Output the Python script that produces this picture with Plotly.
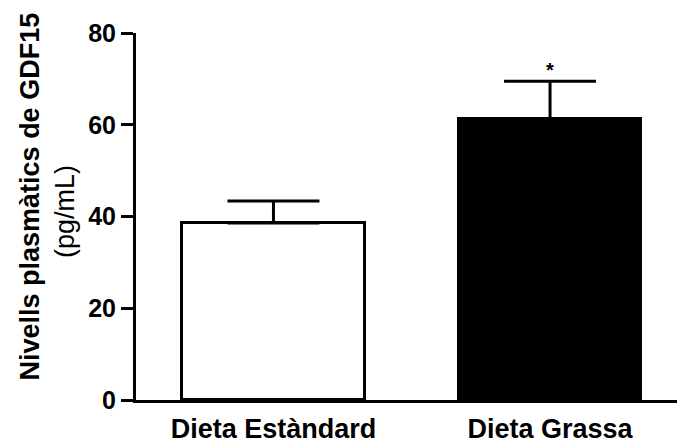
import plotly.graph_objects as go

categories = ["Dieta Estàndard", "Dieta Grassa"]
means = [38.6, 61.2]
sem = [4.8, 8.3]
fill_colors = ["white", "black"]
y_ticks = [0, 20, 40, 60, 80]
significance = ["", "*"]

FONT = "Liberation Sans, Arial, sans-serif"
xpos = list(range(len(categories)))

fig = go.Figure()
fig.add_trace(go.Bar(
    x=xpos, y=means, width=0.66,
    marker=dict(color=fill_colors, line=dict(color="black", width=3)),
    error_y=dict(type="data", array=sem, arrayminus=[0] * len(sem), symmetric=False,
                 color="black", thickness=3, width=46),
    showlegend=False, hoverinfo="skip",
))

for xi, m, s, sig in zip(xpos, means, sem, significance):
    if sig:
        fig.add_annotation(x=xi, y=m + s, text="<b>" + sig + "</b>", showarrow=False,
                           yanchor="bottom", yshift=-2,
                           font=dict(family=FONT, size=20, color="black"))

fig.add_annotation(xref="paper", yref="paper", x=0, y=0.5545, xshift=-106,
                   text="<b>Nivells plasmàtics de GDF15</b>", textangle=-90,
                   showarrow=False, xanchor="center", yanchor="middle",
                   font=dict(family=FONT, size=27, color="black"))
fig.add_annotation(xref="paper", yref="paper", x=0, y=0.512, xshift=-71,
                   text="(pg/mL)", textangle=-90,
                   showarrow=False, xanchor="center", yanchor="middle",
                   font=dict(family=FONT, size=27, color="black"))

fig.update_layout(
    width=678, height=444,
    margin=dict(l=136, r=1, t=33, b=44),
    paper_bgcolor="white", plot_bgcolor="white",
    font=dict(family=FONT, color="black"),
    bargap=0,
)
fig.update_xaxes(
    range=[-0.497, 1.459], tickvals=xpos,
    ticktext=["<b>" + c + "</b>" for c in categories],
    showline=True, linecolor="black", linewidth=3, ticks="",
    tickfont=dict(family=FONT, size=27, color="black"),
    ticklabelstandoff=3,
    showgrid=False, zeroline=False, automargin=False,
)
fig.update_yaxes(
    range=[0, 80], tickvals=y_ticks,
    ticktext=["<b>" + str(t) + "</b>" for t in y_ticks],
    showline=True, linecolor="black", linewidth=3,
    ticks="outside", ticklen=12, tickwidth=3, tickcolor="black",
    tickfont=dict(family=FONT, size=25, color="black"),
    showgrid=False, zeroline=False, automargin=False,
)

fig.write_html("out.html", config={"displayModeBar": False},
               post_script="document.body.style.margin='0';document.body.style.overflow='hidden';")
